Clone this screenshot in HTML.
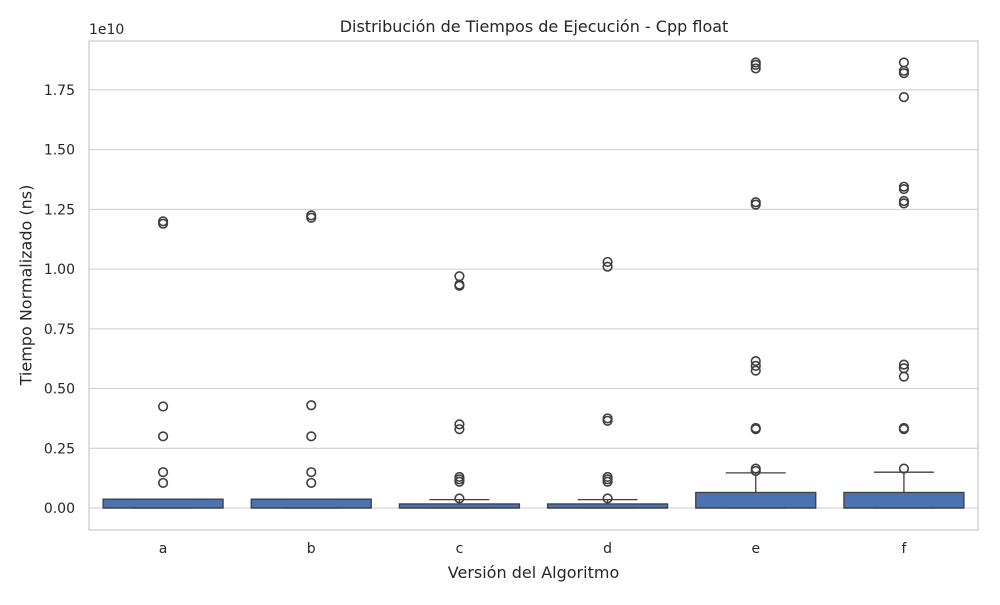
<!DOCTYPE html>
<html><head><meta charset="utf-8"><style>body{margin:0;background:#fff}svg{font-family:"DejaVu Sans","Liberation Sans",sans-serif}</style></head>
<body>
<svg id="c" width="1000" height="600" xmlns="http://www.w3.org/2000/svg"></svg>
<script>
const categories=["a","b","c","d","e","f"];
const q1=[0,0,0,0,0,0];
const medians=[0,0,0,0,0,0];
const q3=[0.037,0.037,0.017,0.017,0.065,0.065];
const whiskerHi=[0.037,0.037,0.035,0.035,0.147,0.15];
const outliers=[
[1.19,1.20,0.425,0.30,0.15,0.105],
[1.215,1.225,0.43,0.30,0.15,0.105],
[0.97,0.93,0.935,0.35,0.33,0.13,0.12,0.11,0.04],
[1.03,1.01,0.375,0.365,0.13,0.12,0.11,0.04],
[1.865,1.855,1.84,1.28,1.27,0.615,0.595,0.575,0.335,0.33,0.165,0.155],
[1.865,1.83,1.82,1.72,1.345,1.335,1.285,1.275,0.60,0.585,0.55,0.335,0.33,0.165]];
const yTicks=[0,0.25,0.5,0.75,1.0,1.25,1.5,1.75];
const yTickLabels=["0.00","0.25","0.50","0.75","1.00","1.25","1.50","1.75"];

const L=89,R=978,T=41,B=530;
const y=v=>508-v*238.9;
const x=i=>L+(R-L)/categories.length*(i+0.5);
const bw=120;
const s=document.getElementById('c');
const NS="http://www.w3.org/2000/svg";
function mk(t,a,p){const e=document.createElementNS(NS,t);for(const k in a)e.setAttribute(k,a[k]);(p||s).appendChild(e);return e;}

yTicks.forEach((v,i)=>{
 const g=mk('line',{x1:L,x2:R,y1:y(v),y2:y(v),stroke:'#cccccc','stroke-width':1});
 
 
 const t=mk('text',{x:L-14,y:y(v)+5,'text-anchor':'end','font-size':14,fill:'#262626'});
 t.textContent=yTickLabels[i];
 
 
});
const fr=mk('rect',{x:L,y:T,width:R-L,height:B-T,fill:'none',stroke:'#cccccc','stroke-width':1.3});



categories.forEach((c,i)=>{
 const cx=x(i);
 const g=mk('g',{});
 
 
 const ed='#3f3f3f';
 mk('line',{x1:cx,x2:cx,y1:y(q3[i]),y2:y(whiskerHi[i]),stroke:ed,'stroke-width':1.3},g);
 mk('line',{x1:cx-bw/4,x2:cx+bw/4,y1:y(whiskerHi[i]),y2:y(whiskerHi[i]),stroke:ed,'stroke-width':1.3},g);
 mk('line',{x1:cx-bw/4,x2:cx+bw/4,y1:y(q1[i]),y2:y(q1[i]),stroke:ed,'stroke-width':1.3},g);
 mk('rect',{x:cx-bw/2,y:y(q3[i]),width:bw,height:Math.max(1,y(q1[i])-y(q3[i])),fill:'#4c72b0',stroke:ed,'stroke-width':1.3},g);
 mk('line',{x1:cx-bw/2,x2:cx+bw/2,y1:y(medians[i]),y2:y(medians[i]),stroke:ed,'stroke-width':1.3},g);
 outliers[i].forEach(v=>{
  const o=mk('circle',{cx:cx,cy:y(v),r:4.3,fill:'none',stroke:ed,'stroke-width':1.6},g);
  
  
 });
 const t=mk('text',{x:cx,y:553,'text-anchor':'middle','font-size':14,fill:'#262626'});
 t.textContent=c;
 
 
});
</script>
<div style="position:absolute;left:0;top:0;width:1000px;height:600px;pointer-events:none;font-family:'DejaVu Sans','Liberation Sans',sans-serif;color:#262626">
 <div style="position:absolute;left:0;width:1000px;top:17px;text-align:center;font-size:16px;padding-left:68px;box-sizing:border-box">Distribución de Tiempos de Ejecución - Cpp float</div>
 <div style="position:absolute;left:89px;top:22px;font-size:14px">1e10</div>
 <div style="position:absolute;left:89px;width:889px;top:563px;text-align:center;font-size:16px">Versión del Algoritmo</div>
 <div style="position:absolute;left:26px;top:285px;font-size:16px;transform:translate(-50%,-50%) rotate(-90deg);white-space:nowrap">Tiempo Normalizado (ns)</div>
</div>
</body></html>
